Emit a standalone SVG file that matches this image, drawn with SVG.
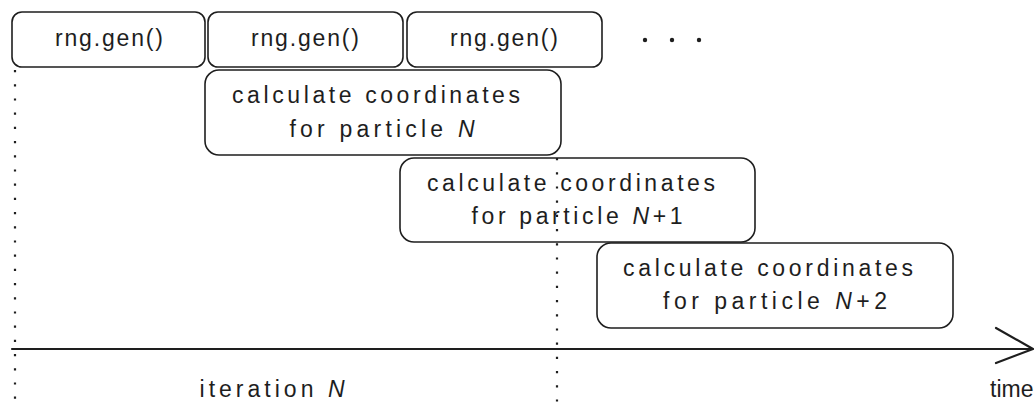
<svg xmlns="http://www.w3.org/2000/svg" width="1034" height="409" viewBox="0 0 1034 409">
<style>
.box{fill:#fff;stroke:#1e1e1e;stroke-width:1.6}
.t{font-family:"Liberation Sans",Arial,sans-serif;font-size:23px;fill:#1e1e1e;text-anchor:middle}
.dot{stroke:#1e1e1e;stroke-width:2.2;stroke-dasharray:2.2 12;fill:none}
.ax{stroke:#1e1e1e;stroke-width:2.2;fill:none;stroke-linecap:round}
</style>
<rect width="1034" height="409" fill="#fff"/>
<g id="connectors">
<line class="dot" x1="15" y1="70" x2="15" y2="409"/>
<line class="dot" x1="557" y1="158" x2="557" y2="409"/>
<line class="ax" x1="12" y1="349" x2="1032" y2="349"/>
<polyline class="ax" points="996,328 1033,349 996,363"/>
</g>
<g id="gen1"><rect class="box" x="12" y="12" width="193" height="55" rx="10"/><text class="t" x="109" y="46" textLength="108" lengthAdjust="spacing">rng.gen()</text></g>
<g id="gen2"><rect class="box" x="208" y="12" width="195" height="55" rx="10"/><text class="t" x="305" y="46" textLength="108" lengthAdjust="spacing">rng.gen()</text></g>
<g id="gen3"><rect class="box" x="407" y="12" width="195" height="55" rx="10"/><text class="t" x="504" y="46" textLength="108" lengthAdjust="spacing">rng.gen()</text></g>
<g id="ellipsis"><circle cx="645" cy="40" r="2.2" fill="#1e1e1e"/><circle cx="672" cy="40" r="2.2" fill="#1e1e1e"/><circle cx="699" cy="40" r="2.2" fill="#1e1e1e"/></g>
<g id="calcN"><rect class="box" x="205" y="70" width="356" height="85" rx="14"/><text class="t" x="376" y="103" textLength="288" lengthAdjust="spacing">calculate coordinates</text><text class="t" x="382" y="137" textLength="185" lengthAdjust="spacing">for particle <tspan font-style="italic">N</tspan></text></g>
<g id="calcN1"><rect class="box" x="400" y="158" width="355" height="84" rx="14" fill-opacity="0"/><text class="t" x="571" y="191" textLength="288" lengthAdjust="spacing">calculate coordinates</text><text class="t" x="577" y="224" textLength="211" lengthAdjust="spacing">for particle <tspan font-style="italic">N</tspan>+1</text></g>
<g id="calcN2"><rect class="box" x="597" y="243" width="356" height="85" rx="14"/><text class="t" x="768" y="276" textLength="290" lengthAdjust="spacing">calculate coordinates</text><text class="t" x="775" y="309" textLength="224" lengthAdjust="spacing">for particle <tspan font-style="italic">N</tspan>+2</text></g>
<g id="labels"><text class="t" x="272" y="397" textLength="145" lengthAdjust="spacing">iteration <tspan font-style="italic">N</tspan></text><text class="t" x="990" y="397" style="text-anchor:start">time</text></g>
</svg>
